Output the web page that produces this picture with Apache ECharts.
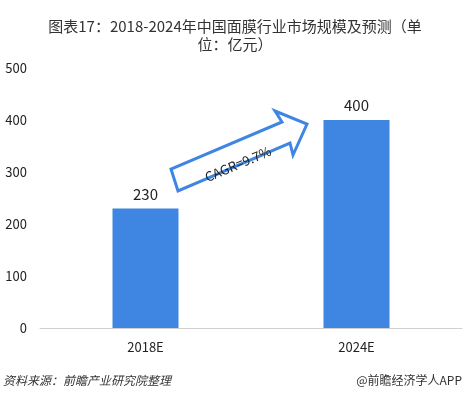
<!DOCTYPE html>
<html><head><meta charset="utf-8">
<script src="https://cdn.jsdelivr.net/npm/echarts@6/dist/echarts.min.js"></script>
<style>html,body{margin:0;padding:0;background:#fff}#c{width:470px;height:398px}</style>
</head><body><div id="c"></div>
<script>
var categories = ['2018E', '2024E'];
var marketSize = [230, 400];
var yTicks = [0, 100, 200, 300, 400, 500];
var titleText = '图表17：2018-2024年中国面膜行业市场规模及预测（单\n位：亿元）';
var cagrText = 'CAGR=9.7%';

var chart = echarts.init(document.getElementById('c'));
var font = '"Microsoft YaHei","Noto Sans CJK SC",sans-serif';
chart.setOption({
  animation: false,
  textStyle: {fontFamily: font},
  title: {
    text: titleText, left: 'center', top: 12,
    textStyle: {fontSize: 15, fontWeight: 'normal', color: '#333', lineHeight: 18, align: 'center', fontFamily: font}
  },
  grid: {left: 40, right: 8, top: 68, bottom: 70},
  xAxis: {
    type: 'category', data: categories,
    axisLine: {lineStyle: {color: '#d0d0d0'}},
    axisTick: {show: false},
    axisLabel: {color: '#222', fontSize: 13, margin: 13}
  },
  yAxis: {
    type: 'value', min: yTicks[0], max: yTicks[yTicks.length - 1], interval: 100,
    axisLine: {show: false}, axisTick: {show: false}, splitLine: {show: false},
    axisLabel: {color: '#222', fontSize: 13, margin: 13}
  },
  series: [{
    type: 'bar', data: marketSize, barWidth: 66,
    itemStyle: {color: '#3f86e2'},
    label: {show: true, position: 'top', color: '#222', fontSize: 15, distance: 7}
  }],
  graphic: [
    {type: 'polygon', z: 10,
     shape: {points: [[178,191],[171,169],[282,122],[275,111],[307,124],[293,155],[290,143]]},
     style: {fill: '#fff', stroke: '#3f86e2', lineWidth: 3, lineJoin: 'miter'}},
    {type: 'text', z: 11, x: 238, y: 164, rotation: 23 * Math.PI / 180,
     style: {text: cagrText, fill: '#222', fontSize: 13, align: 'center', verticalAlign: 'middle', fontFamily: font}},
    {type: 'text', left: 3, top: 374,
     style: {text: '资料来源：前瞻产业研究院整理', fill: '#333', fontSize: 12, fontStyle: 'italic', fontFamily: font}},
    {type: 'text', right: 8, top: 374,
     style: {text: '@前瞻经济学人APP', fill: '#333', fontSize: 12, fontFamily: font}}
  ]
});
</script></body></html>
